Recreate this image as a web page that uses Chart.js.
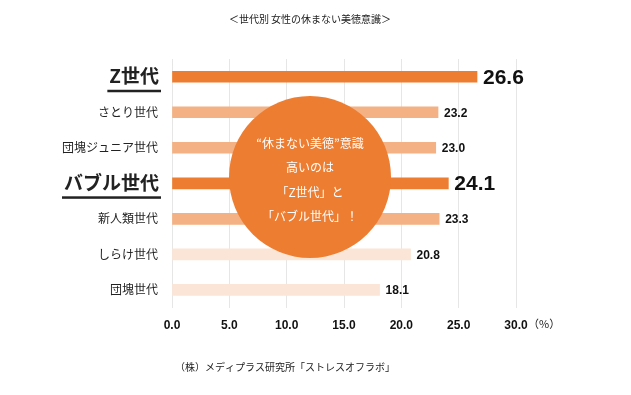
<!DOCTYPE html>
<html>
<head>
<meta charset="utf-8">
<script src="https://cdn.jsdelivr.net/npm/chart.js@4"></script>
<style>
  html, body { margin: 0; padding: 0; background: #fff; }
  #wrap { width: 631px; height: 395px; }
</style>
</head>
<body>
<div id="wrap"><canvas id="grafico" width="631" height="395"></canvas></div>
<script>
  const geracoes = ['Z世代', 'さとり世代', '団塊ジュニア世代', 'バブル世代', '新人類世代', 'しらけ世代', '団塊世代'];
  const valores = [26.6, 23.2, 23.0, 24.1, 23.3, 20.8, 18.1];
  const destaque = [true, false, false, true, false, false, false];
  const cores = ['#ED7D31', '#F4B183', '#F4B183', '#ED7D31', '#F4B183', '#FBE5D6', '#FBE5D6'];
  const ticksX = [0, 5, 10, 15, 20, 25, 30];
  const titulo = '＜世代別 女性の休まない美徳意識＞';
  const fonte = '（株）メディプラス研究所「ストレスオフラボ」';
  const textoCirculo = ['“休まない美徳”意識', '高いのは', '「Z世代」と', '「バブル世代」！'];

  const jp = '"Noto Sans CJK JP", "Noto Sans", sans-serif';
  const num = '"Liberation Sans", Arial, sans-serif';

  const extras = {
    id: 'extras',
    afterDatasetsDraw(chart) {
      const ctx = chart.ctx;
      const xs = chart.scales.x;
      const ys = chart.scales.y;
      ctx.save();

      // rotulos do eixo y
      ctx.textAlign = 'right';
      ctx.textBaseline = 'middle';
      ctx.fillStyle = '#222';
      geracoes.forEach((g, i) => {
        const y = ys.getPixelForValue(i);
        if (destaque[i]) {
          ctx.font = 'bold 19px ' + jp;
          ctx.fillText(g, 159, y - 1);
          const w = ctx.measureText(g).width;
          ctx.fillRect(159 - w - 2, y + 13, w + 4, 2.5);
        } else {
          ctx.font = '12px ' + jp;
          ctx.fillText(g, 158, y);
        }
      });

      // valores
      ctx.textAlign = 'left';
      ctx.fillStyle = '#111';
      valores.forEach((v, i) => {
        const y = ys.getPixelForValue(i);
        const x = xs.getPixelForValue(v) + 6;
        ctx.font = destaque[i] ? 'bold 21px ' + num : 'bold 12px ' + num;
        ctx.fillText(v.toFixed(1), x, y + 1);
      });

      // circulo
      ctx.fillStyle = '#ED7D31';
      ctx.beginPath();
      ctx.arc(310, 177, 81, 0, Math.PI * 2);
      ctx.fill();
      ctx.fillStyle = '#fff';
      ctx.textAlign = 'center';
      ctx.font = '12px ' + jp;
      textoCirculo.forEach((t, i) => ctx.fillText(t, 310, 143 + i * 24.5));

      // titulo, fonte, unidade
      ctx.fillStyle = '#222';
      ctx.font = '10px ' + jp;
      ctx.fillText(titulo, 310, 19);
      ctx.fillText(fonte, 285, 367);
      ctx.textAlign = 'left';
      ctx.font = '11px ' + jp;
      ctx.fillText('（%）', 528, 324);
      ctx.restore();
    }
  };

  new Chart(document.getElementById('grafico'), {
    type: 'bar',
    data: {
      labels: geracoes,
      datasets: [{
        data: valores,
        backgroundColor: cores,
        borderWidth: 0,
        barThickness: 11
      }]
    },
    options: {
      indexAxis: 'y',
      responsive: false,
      animation: false,
      layout: { padding: { left: 164, right: 115, top: 59, bottom: 51 } },
      plugins: { legend: { display: false }, tooltip: { enabled: false } },
      scales: {
        x: {
          min: 0,
          max: 30,
          afterBuildTicks: (axis) => { axis.ticks = ticksX.map(v => ({ value: v })); },
          grid: { color: '#e6e6e6', drawTicks: false },
          border: { display: false },
          ticks: {
            padding: 11,
            color: '#111',
            font: { family: num, size: 12, weight: 'bold' },
            callback: (v) => Number(v).toFixed(1)
          }
        },
        y: {
          grid: { display: false },
          border: { display: false },
          ticks: { display: false }
        }
      }
    },
    plugins: [extras]
  });
</script>
</body>
</html>
